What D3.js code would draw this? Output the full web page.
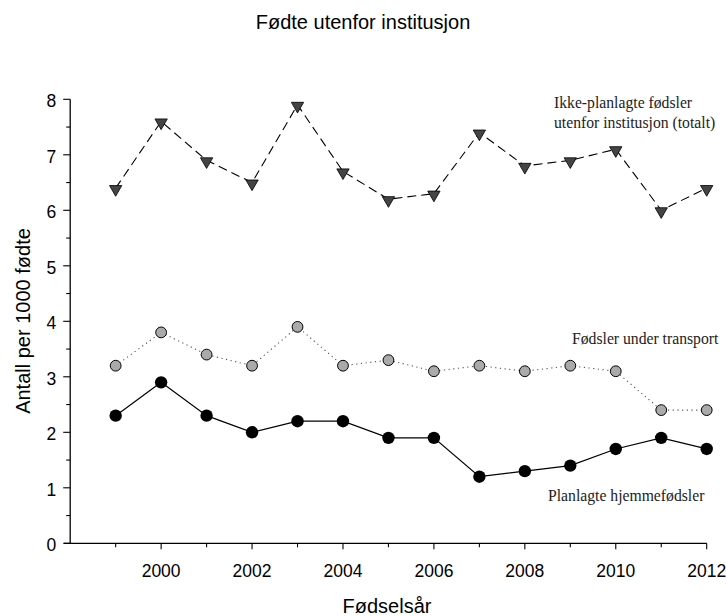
<!DOCTYPE html>
<html><head><meta charset="utf-8">
<script src="https://cdn.jsdelivr.net/npm/d3@7"></script>
<style>body{margin:0;background:#fff}svg{display:block}</style>
</head><body>
<svg id="c" width="726" height="616"></svg>
<script>
const years = [1999,2000,2001,2002,2003,2004,2005,2006,2007,2008,2009,2010,2011,2012];
const totalUnplanned = [6.4,7.6,6.9,6.5,7.9,6.7,6.2,6.3,7.4,6.8,6.9,7.1,6.0,6.4];
const transport = [3.2,3.8,3.4,3.2,3.9,3.2,3.3,3.1,3.2,3.1,3.2,3.1,2.4,2.4];
const plannedHome = [2.3,2.9,2.3,2.0,2.2,2.2,1.9,1.9,1.2,1.3,1.4,1.7,1.9,1.7];
const yTicks = [0,1,2,3,4,5,6,7,8];
const xTickLabels = [2000,2002,2004,2006,2008,2010,2012];
const labels = {
  total: ["Ikke-planlagte fødsler", "utenfor institusjon (totalt)"],
  transport: "Fødsler under transport",
  home: "Planlagte hjemmefødsler"
};

const svg = d3.select("#c");
const x = d3.scaleLinear().domain([1998, 2012]).range([70.2, 706.7]);
const y = d3.scaleLinear().domain([0, 8]).range([543.3, 99.3]);
const sans = "Arial, 'Liberation Sans', sans-serif";
const serif = "'Times New Roman', 'Liberation Serif', serif";

// axes lines
svg.append("line").attr("x1", 64).attr("x2", x(2012)).attr("y1", y(0)).attr("y2", y(0)).attr("stroke","#000").attr("stroke-width",1.3);
svg.append("line").attr("x1", x(1998)).attr("x2", x(1998)).attr("y1", y(0)).attr("y2", y(8)).attr("stroke","#000").attr("stroke-width",1.3);

// y ticks
const yMinor = d3.range(0.5, 8, 1);
svg.selectAll(".ymaj").data(yTicks).enter().append("line")
  .attr("x1", x(1998)-7).attr("x2", x(1998)).attr("y1", d=>y(d)).attr("y2", d=>y(d)).attr("stroke","#000").attr("stroke-width",1.1);
svg.selectAll(".ymin").data(yMinor).enter().append("line")
  .attr("x1", x(1998)-4).attr("x2", x(1998)).attr("y1", d=>y(d)).attr("y2", d=>y(d)).attr("stroke","#000").attr("stroke-width",1.1);
svg.selectAll(".ylab").data(yTicks).enter().append("text")
  .attr("x", x(1998)-14).attr("y", d=>y(d)+1.5).attr("dy","0.36em").attr("text-anchor","end")
  .attr("font-family", sans).attr("font-size", 17.5).text(d=>d);

// x ticks
svg.selectAll(".xt").data(years).enter().append("line")
  .attr("x1", d=>x(d)).attr("x2", d=>x(d)).attr("y1", y(0)).attr("y2", d=> y(0) + (d%2===0?6:4)).attr("stroke","#000").attr("stroke-width",1.1);
svg.selectAll(".xlab").data(xTickLabels).enter().append("text")
  .attr("x", d=>x(d)).attr("y", 577).attr("text-anchor","middle")
  .attr("font-family", sans).attr("font-size", 17.5).text(d=>d);

// titles
svg.append("text").attr("x", 363).attr("y", 29).attr("text-anchor","middle").attr("font-family", sans).attr("font-size", 20).text("Fødte utenfor institusjon");
svg.append("text").attr("x", 387).attr("y", 613).attr("text-anchor","middle").attr("font-family", sans).attr("font-size", 20).text("Fødselsår");
svg.append("text").attr("transform","translate(29.5,321) rotate(-90)").attr("text-anchor","middle").attr("font-family", sans).attr("font-size", 20).text("Antall per 1000 fødte");

const line = d3.line().x((d,i)=>x(years[i])).y(d=>y(d));

// total dashed
svg.append("path").datum(totalUnplanned).attr("d", line).attr("fill","none").attr("stroke","#000").attr("stroke-width",1.1).attr("stroke-dasharray","9,5");
// transport dotted
svg.append("path").datum(transport).attr("d", line).attr("fill","none").attr("stroke","#555").attr("stroke-width",1.1).attr("stroke-dasharray","1.2,3.5");
// home solid
svg.append("path").datum(plannedHome).attr("d", line).attr("fill","none").attr("stroke","#000").attr("stroke-width",1.2);

// markers
const tri = d3.symbol().type(d3.symbolTriangle).size(66);
svg.selectAll(".tri").data(totalUnplanned).enter().append("path")
  .attr("d", tri).attr("transform",(d,i)=>`translate(${x(years[i])},${y(d)+1}) rotate(180)`)
  .attr("fill","#444").attr("stroke","#000").attr("stroke-width",0.8);
svg.selectAll(".gc").data(transport).enter().append("circle")
  .attr("cx",(d,i)=>x(years[i])).attr("cy", d=>y(d)).attr("r",5.4)
  .attr("fill","#aaa").attr("stroke","#000").attr("stroke-width",1);
svg.selectAll(".bc").data(plannedHome).enter().append("circle")
  .attr("cx",(d,i)=>x(years[i])).attr("cy", d=>y(d)).attr("r",6.2)
  .attr("fill","#000");

// annotations
const annFont = 15.7;
svg.append("text").attr("x", 554).attr("y", 108).attr("font-family", serif).attr("font-size", annFont).attr("fill","#222").text(labels.total[0]);
svg.append("text").attr("x", 554).attr("y", 128).attr("font-family", serif).attr("font-size", annFont).attr("fill","#222").text(labels.total[1]);
svg.append("text").attr("x", 572).attr("y", 344).attr("font-family", serif).attr("font-size", annFont).attr("fill","#222").text(labels.transport);
svg.append("text").attr("x", 548).attr("y", 501).attr("font-family", serif).attr("font-size", annFont).attr("fill","#222").text(labels.home);
</script>
</body></html>
